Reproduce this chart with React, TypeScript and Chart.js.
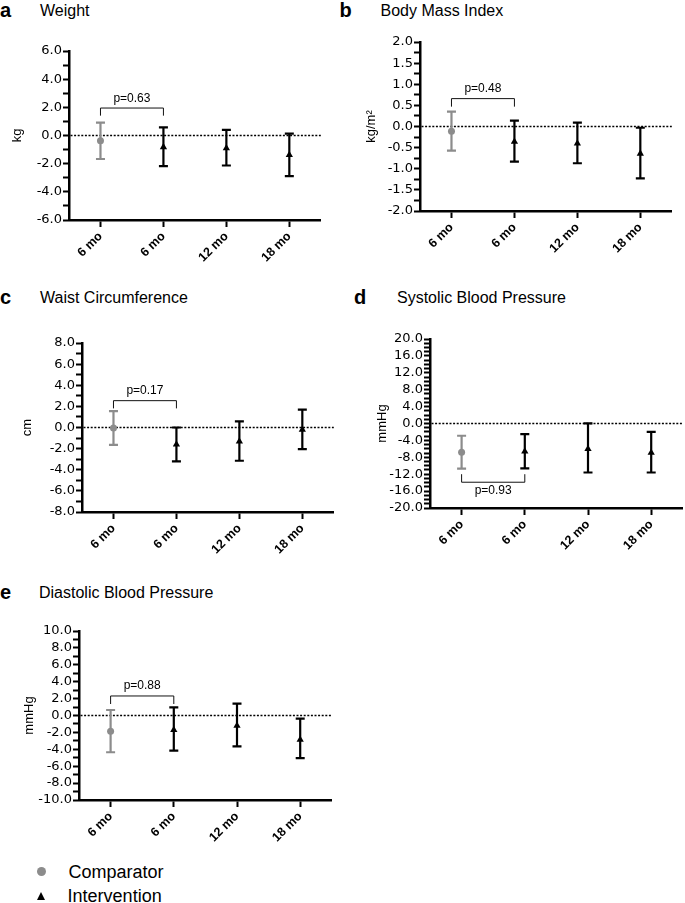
import React, { useEffect, useRef } from 'react';
import { Chart, registerables } from 'chart.js';

Chart.register(...registerables);

const FONT = '"Liberation Sans", Arial, Helvetica, sans-serif';
const TICK_FONT = '"DejaVu Sans", "Liberation Sans", Arial, sans-serif';
Chart.defaults.font.family = FONT;
Chart.defaults.color = '#000';

// ---------- data ----------
const categories = ['6 mo', '6 mo', '12 mo', '18 mo'];
const groups = ['Comparator', 'Intervention', 'Intervention', 'Intervention'];

// Weight (kg)
const weightMean = [-0.37, -0.82, -0.9, -1.38];
const weightLow = [-1.67, -2.17, -2.13, -2.88];
const weightHigh = [0.92, 0.57, 0.4, 0.14];

// Body Mass Index (kg/m2)
const bmiMean = [-0.11, -0.36, -0.4, -0.64];
const bmiLow = [-0.57, -0.83, -0.87, -1.23];
const bmiHigh = [0.35, 0.14, 0.09, -0.03];

// Waist circumference (cm)
const waistMean = [-0.05, -1.6, -1.32, -0.2];
const waistLow = [-1.65, -3.2, -3.15, -2.05];
const waistHigh = [1.55, 0.0, 0.58, 1.7];

// Systolic blood pressure (mmHg)
const systolicMean = [-6.8, -6.6, -6.0, -6.9];
const systolicLow = [-10.7, -10.6, -11.6, -11.6];
const systolicHigh = [-2.9, -2.5, 0.05, -2.0];

// Diastolic blood pressure (mmHg)
const diastolicMean = [-1.85, -1.7, -1.2, -2.85];
const diastolicLow = [-4.35, -4.15, -3.65, -5.05];
const diastolicHigh = [0.65, 0.97, 1.4, -0.37];

// y axes: [min, max, labelled step, minor step]
const weightAxis = [-6, 6, 2, 1];
const bmiAxis = [-2, 2, 0.5, 0.25];
const waistAxis = [-8, 8, 2, 1];
const systolicAxis = [-20, 20, 4, 1];
const diastolicAxis = [-10, 10, 2, 1];

// comparison brackets: [bracket level, tip end]
const weightBracket = [1.95, 1.41];
const bmiBracket = [0.66, 0.47];
const waistBracket = [2.54, 1.81];
const systolicBracket = [-13.9, -12.0];
const diastolicBracket = [2.31, 1.36];
const pValues = ['p=0.63', 'p=0.48', 'p=0.17', 'p=0.93', 'p=0.88'];

const legendLabels = ['Comparator', 'Intervention'];

// ---------- styling / layout ----------
const GREY = '#8c8c8c';
const PAD_TOP = 12;
const PLOT_H = 169;
const X_AXIS_H = 55;
const PAD_RIGHT = 3;

type Panel = {
  letter: string;
  title: string;
  unit: string;
  mean: number[];
  low: number[];
  high: number[];
  axis: number[];
  bracket: number[];
  p: string;
  canvasLeft: number;
  canvasTop: number;
  yAxisWidth: number;
  plotWidth: number;
  letterPos: [number, number];
  titlePos: [number, number];
};

const panels: Panel[] = [
  {
    letter: 'a', title: 'Weight', unit: 'kg',
    mean: weightMean, low: weightLow, high: weightHigh, axis: weightAxis,
    bracket: weightBracket, p: pValues[0],
    canvasLeft: 10, canvasTop: 39, yAxisWidth: 59, plotWidth: 253,
    letterPos: [0, 17], titlePos: [40, 17],
  },
  {
    letter: 'b', title: 'Body Mass Index', unit: 'kg/m\u00B2',
    mean: bmiMean, low: bmiLow, high: bmiHigh, axis: bmiAxis,
    bracket: bmiBracket, p: pValues[1],
    canvasLeft: 364, canvasTop: 30, yAxisWidth: 56, plotWidth: 253,
    letterPos: [339.5, 17], titlePos: [380.5, 17],
  },
  {
    letter: 'c', title: 'Waist Circumference', unit: 'cm',
    mean: waistMean, low: waistLow, high: waistHigh, axis: waistAxis,
    bracket: waistBracket, p: pValues[2],
    canvasLeft: 20, canvasTop: 331, yAxisWidth: 62, plotWidth: 253,
    letterPos: [0, 304], titlePos: [40, 304],
  },
  {
    letter: 'd', title: 'Systolic Blood Pressure', unit: 'mmHg',
    mean: systolicMean, low: systolicLow, high: systolicHigh, axis: systolicAxis,
    bracket: systolicBracket, p: pValues[3],
    canvasLeft: 375, canvasTop: 327, yAxisWidth: 55, plotWidth: 254,
    letterPos: [354, 304], titlePos: [397, 304],
  },
  {
    letter: 'e', title: 'Diastolic Blood Pressure', unit: 'mmHg',
    mean: diastolicMean, low: diastolicLow, high: diastolicHigh, axis: diastolicAxis,
    bracket: diastolicBracket, p: pValues[4],
    canvasLeft: 22, canvasTop: 619, yAxisWidth: 57, plotWidth: 254,
    letterPos: [0, 598.5], titlePos: [39, 598.5],
  },
];

function pick(arr: number[], group: string) {
  return arr.map((v, i) => (groups[i] === group ? v : null));
}

function PanelChart({ panel }: { panel: Panel }) {
  const ref = useRef<HTMLCanvasElement | null>(null);
  const width = panel.yAxisWidth + panel.plotWidth + PAD_RIGHT;
  const height = PAD_TOP + PLOT_H + X_AXIS_H;

  useEffect(() => {
    if (!ref.current) return;
    const [yMin, yMax, major, minor] = panel.axis;

    const overlay = {
      id: 'overlay',
      beforeDatasetsDraw(chart: any) {
        const { ctx, chartArea, scales } = chart;
        const y = scales.y;
        ctx.save();
        // dotted zero line
        const y0 = y.getPixelForValue(0);
        ctx.strokeStyle = '#000';
        ctx.lineWidth = 1.5;
        ctx.setLineDash([2, 1.6]);
        ctx.beginPath();
        ctx.moveTo(chartArea.left + 1.5, y0);
        ctx.lineTo(chartArea.right, y0);
        ctx.stroke();
        ctx.setLineDash([]);
        // error bars
        chart.data.datasets.forEach((ds: any, di: number) => {
          const meta = chart.getDatasetMeta(di);
          ds.errLow.forEach((lo: number | null, i: number) => {
            const hi = ds.errHigh[i];
            if (lo == null || hi == null) return;
            const x = meta.data[i].x;
            const yl = y.getPixelForValue(lo);
            const yh = y.getPixelForValue(hi);
            ctx.strokeStyle = ds.borderColor;
            ctx.lineWidth = 2.2;
            ctx.beginPath();
            ctx.moveTo(x, yl);
            ctx.lineTo(x, yh);
            ctx.moveTo(x - 4.5, yl);
            ctx.lineTo(x + 4.5, yl);
            ctx.moveTo(x - 4.5, yh);
            ctx.lineTo(x + 4.5, yh);
            ctx.stroke();
          });
        });
        // comparison bracket
        const xs = scales.x;
        const x0 = xs.getPixelForValue(0);
        const x1 = xs.getPixelForValue(1);
        const [level, tip] = panel.bracket;
        const yb = y.getPixelForValue(level);
        const yt = y.getPixelForValue(tip);
        ctx.strokeStyle = '#111';
        ctx.lineWidth = 1;
        ctx.beginPath();
        ctx.moveTo(x0, yt);
        ctx.lineTo(x0, yb);
        ctx.lineTo(x1, yb);
        ctx.lineTo(x1, yt);
        ctx.stroke();
        ctx.fillStyle = '#000';
        ctx.font = `12px ${FONT}`;
        ctx.textAlign = 'center';
        ctx.textBaseline = 'alphabetic';
        const above = level > tip;
        ctx.fillText(panel.p, (x0 + x1) / 2, above ? yb - 6.5 : yb + 12);
        ctx.restore();
      },
    };

    const chart = new Chart(ref.current, {
      type: 'line',
      data: {
        labels: categories,
        datasets: [
          {
            label: legendLabels[0],
            data: pick(panel.mean, 'Comparator'),
            errLow: pick(panel.low, 'Comparator'),
            errHigh: pick(panel.high, 'Comparator'),
            showLine: false,
            pointStyle: 'circle',
            pointRadius: 3.5,
            pointBackgroundColor: GREY,
            pointBorderColor: GREY,
            pointBorderWidth: 0,
            borderColor: GREY,
            backgroundColor: GREY,
          } as any,
          {
            label: legendLabels[1],
            data: pick(panel.mean, 'Intervention'),
            errLow: pick(panel.low, 'Intervention'),
            errHigh: pick(panel.high, 'Intervention'),
            showLine: false,
            pointStyle: 'triangle',
            pointRadius: 4.2,
            pointBackgroundColor: '#000',
            pointBorderColor: '#000',
            pointBorderWidth: 0,
            borderColor: '#000',
            backgroundColor: '#000',
          } as any,
        ],
      },
      options: {
        animation: false,
        responsive: false,
        events: [],
        layout: { padding: { top: PAD_TOP, right: PAD_RIGHT, left: 0, bottom: 0 } },
        plugins: { legend: { display: false }, tooltip: { enabled: false }, title: { display: false } },
        scales: {
          x: {
            type: 'category',
            offset: true,
            afterFit: (s: any) => { s.height = X_AXIS_H; },
            grid: {
              display: true,
              drawOnChartArea: false,
              drawTicks: true,
              offset: false,
              tickLength: 7,
              tickWidth: 2,
              tickColor: '#000',
            },
            border: { display: true, color: '#000', width: 2.5 },
            ticks: {
              autoSkip: false,
              minRotation: 45,
              maxRotation: 45,
              padding: 2,
              color: '#000',
              font: { size: 12.5, weight: 'bold', family: FONT },
            },
          },
          y: {
            type: 'linear',
            min: yMin,
            max: yMax,
            afterFit: (s: any) => { s.width = panel.yAxisWidth; },
            grid: {
              display: true,
              drawOnChartArea: false,
              drawTicks: true,
              tickLength: 6,
              tickWidth: 2,
              tickColor: '#000',
            },
            border: { display: true, color: '#000', width: 2.5 },
            title: {
              display: true,
              text: panel.unit,
              color: '#000',
              font: { size: 13, family: FONT },
              padding: { top: 0, bottom: 0 },
            },
            ticks: {
              stepSize: minor,
              maxTicksLimit: 200,
              autoSkip: false,
              padding: 1,
              color: '#000',
              font: { size: 13, family: TICK_FONT },
              callback: (v: any) => {
                const n = Number(v);
                const r = n / major;
                if (Math.abs(r - Math.round(r)) < 1e-6) {
                  const val = Math.round(r) * major;
                  return (Math.abs(val) < 1e-9 ? 0 : val).toFixed(1);
                }
                return '';
              },
            },
          },
        },
      } as any,
      plugins: [overlay],
    });
    return () => chart.destroy();
  }, [panel]);

  return (
    <div style={{ position: 'absolute', left: panel.canvasLeft, top: panel.canvasTop, width, height }}>
      <canvas ref={ref} width={width} height={height} style={{ width, height, display: 'block' }} />
    </div>
  );
}

const textBase: React.CSSProperties = {
  position: 'absolute',
  fontFamily: FONT,
  lineHeight: 1,
  whiteSpace: 'nowrap',
  color: '#000',
};

export default function App() {
  return (
    <div style={{ position: 'absolute', left: 0, top: 0, width: 685, height: 903, overflow: 'hidden', background: '#fff' }}>
      {panels.map((p) => (
        <React.Fragment key={p.letter}>
          <div style={{ ...textBase, left: p.letterPos[0], top: p.letterPos[1] - 16.93, fontSize: 20, fontWeight: 'bold' }}>
            {p.letter}
          </div>
          <div style={{ ...textBase, left: p.titlePos[0], top: p.titlePos[1] - 13.55, fontSize: 16 }}>
            {p.title}
          </div>
          <PanelChart panel={p} />
        </React.Fragment>
      ))}
      {/* legend */}
      <div style={{ position: 'absolute', left: 37.2, top: 867.2, width: 9, height: 9, borderRadius: '50%', background: GREY }} />
      <div
        style={{
          position: 'absolute', left: 37.2, top: 892, width: 0, height: 0,
          borderLeft: '4.6px solid transparent', borderRight: '4.6px solid transparent', borderBottom: '8px solid #000',
        }}
      />
      <div style={{ ...textBase, left: 68.4, top: 878 - 15.24, fontSize: 18 }}>{legendLabels[0]}</div>
      <div style={{ ...textBase, left: 67.6, top: 902.5 - 15.24, fontSize: 18 }}>{legendLabels[1]}</div>
    </div>
  );
}
